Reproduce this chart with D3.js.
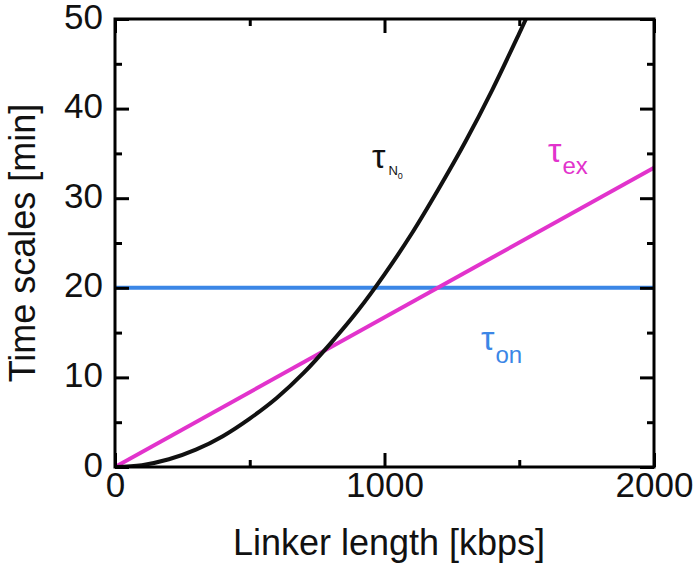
<!DOCTYPE html>
<html><head><meta charset="utf-8">
<script src="https://cdn.jsdelivr.net/npm/d3@7"></script>
<style>body{margin:0;background:#fff}text{font-family:"Liberation Sans",Arial,sans-serif}</style>
</head><body><svg id="c" width="697" height="566"></svg>
<script>
const xMajor = [0, 1000, 2000];
const xMinor = [500, 1500];
const yMajor = [0, 10, 20, 30, 40, 50];
const yMinor = [5, 15, 25, 35, 45];
// tau_N0 curve
const nLen = [0,100,200,300,400,500,600,700,800,900,1000,1100,1200,1300,1400,1500,1525];
const nTau = [0,0.21,0.86,1.93,3.44,5.4,7.7,10.5,13.8,17.4,21.5,26.0,31.0,36.3,42.1,48.4,50];
// tau_ex line
const exLen = [0, 2000];
const exTau = [0, 33.4];
// tau_on line
const onLen = [0, 2000];
const onTau = [20, 20];

const magenta = "#e233cc", blue = "#3b86e6";
const svg = d3.select("#c");
const L = 115, R = 654, T = 19, B = 467;
const x = d3.scaleLinear().domain([0, 2000]).range([L, R]);
const y = d3.scaleLinear().domain([0, 50]).range([B, T]);

svg.append("defs").append("clipPath").attr("id","clip").append("rect")
  .attr("x", L).attr("y", T).attr("width", R-L).attr("height", B-T);

const line = d3.line().x(d=>x(d[0])).y(d=>y(d[1]));
const g = svg.append("g").attr("clip-path","url(#clip)");
g.append("path").datum(onLen.map((v,i)=>[v,onTau[i]])).attr("d",line)
  .attr("fill","none").attr("stroke",blue).attr("stroke-width",4);
g.append("path").datum(exLen.map((v,i)=>[v,exTau[i]])).attr("d",line)
  .attr("fill","none").attr("stroke",magenta).attr("stroke-width",4);
g.append("path").datum(nLen.map((v,i)=>[v,nTau[i]])).attr("d",d3.line().x(d=>x(d[0])).y(d=>y(d[1])).curve(d3.curveMonotoneX))
  .attr("fill","none").attr("stroke","#111").attr("stroke-width",4);

function ax(gen, tr, vals, size, labels){
  const a = svg.append("g").attr("transform", tr)
    .call(gen.tickValues(vals).tickSize(size).tickSizeOuter(0).tickPadding(labels?8:0).tickFormat(labels?d3.format("d"):""));
  a.select(".domain").remove();
  a.selectAll(".tick line").attr("stroke","#000").attr("stroke-width",3);
  a.selectAll("text").attr("font-size",35).attr("fill","#111").attr("font-family","Liberation Sans, Arial, sans-serif");
  return a;
}
const bx = ax(d3.axisBottom(x), `translate(0,${B})`, xMajor, -14, true);
bx.selectAll(".tick line").attr("y2",-14);
bx.selectAll("text").attr("y",5).attr("dy","0.71em");
ax(d3.axisBottom(x), `translate(0,${B})`, xMinor, -7, false);
ax(d3.axisTop(x), `translate(0,${T})`, xMajor, -14, false);
ax(d3.axisTop(x), `translate(0,${T})`, xMinor, -7, false);
const ly = ax(d3.axisLeft(y), `translate(${L},0)`, yMajor, -14, true);
ly.selectAll("text").attr("x",-12).attr("dy","0.26em");
ax(d3.axisLeft(y), `translate(${L},0)`, yMinor, -7, false);
ax(d3.axisRight(y), `translate(${R},0)`, yMajor, -14, false);
ax(d3.axisRight(y), `translate(${R},0)`, yMinor, -7, false);

svg.append("rect").attr("x",L).attr("y",T).attr("width",R-L).attr("height",B-T)
  .attr("fill","none").attr("stroke","#000").attr("stroke-width",3);

svg.append("text").attr("x",389).attr("y",555).attr("text-anchor","middle")
  .attr("font-size",36).attr("fill","#111").text("Linker length [kbps]");
svg.append("text").attr("transform","translate(35,243) rotate(-90)").attr("text-anchor","middle")
  .attr("font-size",36).attr("fill","#111").text("Time scales [min]");

// curve labels
const t1 = svg.append("text").attr("x",372).attr("y",168).attr("fill","#111").attr("font-size",34);
t1.append("tspan").text("τ");
t1.append("tspan").attr("font-size",13).attr("dx",3).attr("dy",7).text("N");
t1.append("tspan").attr("font-size",9).attr("dy",4).text("0");
const t2 = svg.append("text").attr("x",548).attr("y",162).attr("fill",magenta).attr("font-size",34);
t2.append("tspan").text("τ");
t2.append("tspan").attr("font-size",24).attr("dx",1).attr("dy",12).text("ex");
const t3 = svg.append("text").attr("x",481).attr("y",350).attr("fill",blue).attr("font-size",34);
t3.append("tspan").text("τ");
t3.append("tspan").attr("font-size",24).attr("dx",1).attr("dy",13).text("on");
</script></body></html>
